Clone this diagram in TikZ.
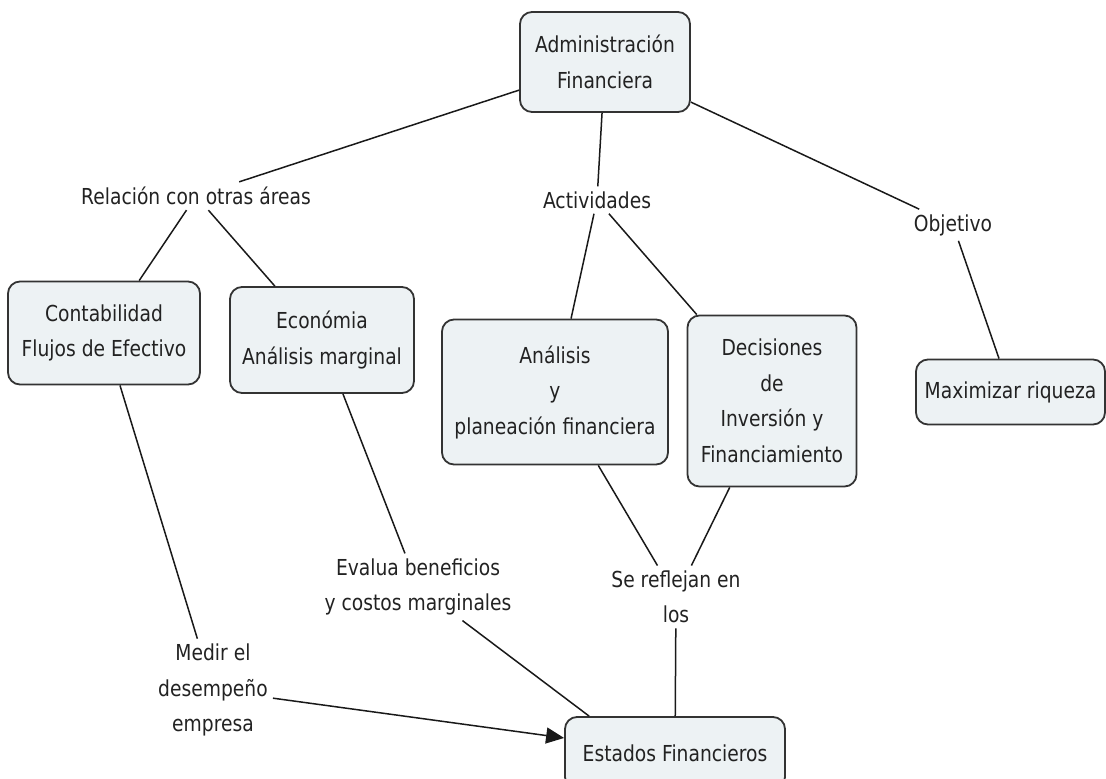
\documentclass[tikz,border=0pt]{standalone}
\usepackage{fontspec}
\setmainfont{DejaVu Sans}[FakeStretch=0.85]
\usetikzlibrary{arrows.meta}
\definecolor{boxfill}{HTML}{EDF2F4}
\definecolor{boxline}{HTML}{333333}
\definecolor{txt}{HTML}{222222}
\tikzset{
  concept/.style={draw=boxline, line width=1.8pt, fill=boxfill, rounded corners=12pt,
    align=center, text=txt, inner sep=0pt},
  lbl/.style={align=center, text=txt, inner sep=5pt},
  conn/.style={line width=1.5pt, draw=black!90},
}
\begin{document}
\begin{tikzpicture}[x=1pt,y=-1pt,font=\fontsize{22}{35.5}\selectfont]
\useasboundingbox (0,0) rectangle (1106,779);
\node[concept, minimum width=170pt, minimum height=100pt] (adm) at (605,62) {Administración\\Financiera};
\node[lbl] (rel) at (196,196) {Relación con otras áreas};
\node[lbl] (act) at (597,200) {Actividades};
\node[lbl] (obj) at (953,225) {Objetivo};
\node[concept, minimum width=192pt, minimum height=103pt] (cont) at (104,333) {Contabilidad\\Flujos de Efectivo};
\node[concept, minimum width=184pt, minimum height=106pt] (eco) at (322,340) {Económia\\Análisis marginal};
\node[concept, minimum width=226pt, minimum height=145pt] (ana) at (555,392) {Análisis\\y\\planeación financiera};
\node[concept, minimum width=169pt, minimum height=171pt] (dec) at (772,401) {Decisiones\\de\\Inversión y\\Financiamiento};
\node[concept, minimum width=189pt, minimum height=65pt] (max) at (1010.5,392) {Maximizar riqueza};
\node[lbl] (eva) at (418,587) {Evalua beneficios\\y costos marginales};
\node[lbl] (ref) at (676,597) {Se reflejan en\\los};
\node[lbl] (med) at (213,690) {Medir el\\desempeño\\empresa};
\node[concept, minimum width=220pt, minimum height=72pt] (est) at (675,753) {Estados Financieros};

\draw[conn] (adm) -- (rel);
\draw[conn] (adm) -- (act);
\draw[conn] (adm) -- (obj);
\draw[conn] (rel) -- (cont);
\draw[conn] (rel) -- (eco);
\draw[conn] (act) -- (ana);
\draw[conn] (act) -- (dec);
\draw[conn] (obj) -- (max);
\draw[conn] (cont) -- (med);
\draw[conn] (eco) -- (eva);
\draw[conn] (ana) -- (ref);
\draw[conn] (dec) -- (ref);
\draw[conn] (eva) -- ([xshift=25pt]est.north west);
\draw[conn] (ref) -- (est);
\draw[conn, -{Triangle[length=18pt,width=16pt]}] (med) -- (est);
\end{tikzpicture}
\end{document}
